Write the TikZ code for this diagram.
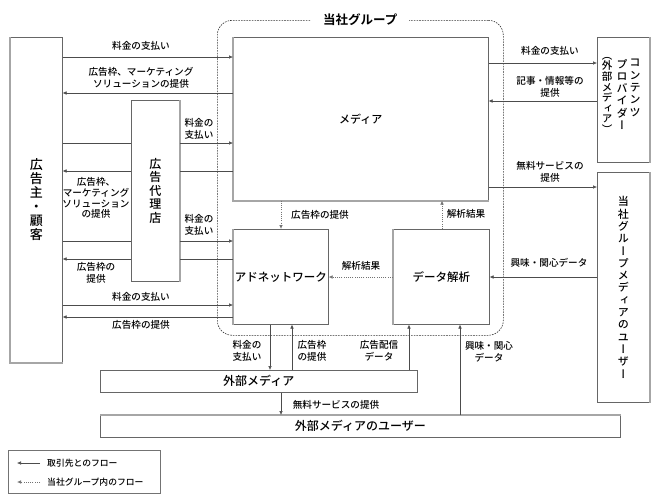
\documentclass[tikz,border=0pt]{standalone}
\usepackage{fontspec}
\setmainfont{Noto Sans CJK JP}[UprightFont={* Medium}, BoldFont={* Bold}]
\newfontfamily\vjp{Noto Sans CJK JP}[UprightFont={* Medium}, RawFeature=+vert]
\usetikzlibrary{arrows.meta}
\tikzset{
  box/.style={draw=black!60, line width=0.6pt, fill=white, inner sep=0pt, anchor=north west, align=center},
  shadeedge/.style={draw=black!35, line width=1.8pt},
  conn/.style={draw=black!70, line width=0.6pt},
  arr/.style={conn, -{Latex[length=4pt,width=3.6pt]}},
  darr/.style={draw=black!55, line width=0.7pt, dash pattern=on 1pt off 1.2pt, -{Latex[length=4pt,width=3.6pt]}},
  lbl/.style={font=\fontsize{9.6}{11.5}\selectfont, align=center, inner sep=0pt},
  boxtxt/.style={font=\fontsize{11.5}{13}\selectfont},
}
\begin{document}
\begin{tikzpicture}[x=1pt,y=-1pt]
\useasboundingbox (0,0) rectangle (660,501);
\fill[white] (0,0) rectangle (660,501);

% group boundary
\node[draw=black!80, line width=0.6pt, dash pattern=on 1.6pt off 1.1pt, rounded corners=15pt,
      minimum width=286pt, minimum height=315pt, inner sep=0pt, anchor=north west] (grp) at (217,20) {};
\node[fill=white, inner xsep=12pt, inner ysep=2pt, font=\fontsize{12.5}{14}\selectfont\bfseries] (title) at (grp.north) {当社グループ};

% boxes
\node[box, minimum width=52pt, minimum height=325pt, font=\vjp\fontsize{13}{14}\selectfont] (adv) at (10,37) {広\\告\\主\\・\\顧\\客};
\node[box, minimum width=48pt, minimum height=181pt, font=\vjp\fontsize{12}{13.4}\selectfont] (agency) at (131,100) {広\\告\\代\\理\\店};
\node[box, minimum width=255pt, minimum height=163pt, font=\fontsize{11}{13}\selectfont] (media) at (233,37) {メディア};
\node[box, minimum width=95pt, minimum height=95pt, boxtxt] (adnet) at (233,229) {アドネットワーク};
\node[box, minimum width=96pt, minimum height=95pt, boxtxt] (data) at (393,229) {データ解析};
\node[box, minimum width=52pt, minimum height=125pt] (prov) at (597,37) {};
\node[box, minimum width=52pt, minimum height=230pt, font=\vjp\fontsize{11}{12.3}\selectfont] (user) at (597,172) {当\\社\\グ\\ル\\ー\\プ\\メ\\デ\\ィ\\ア\\の\\ユ\\ー\\ザ\\ー};
\node[box, minimum width=317pt, minimum height=22pt, font=\fontsize{12}{13}\selectfont] (extm) at (100,370) {外部メディア};
\node[box, minimum width=520pt, minimum height=22pt, font=\fontsize{12}{13}\selectfont] (extu) at (100,415) {外部メディアのユーザー};

% provider vertical text columns
\node[anchor=north, inner sep=0pt, align=center, font=\vjp\fontsize{11}{12.4}\selectfont] (pc1) at (635,59) {コ\\ン\\テ\\ン\\ツ};
\node[anchor=north, inner sep=0pt, align=center, font=\vjp\fontsize{11}{12.2}\selectfont] (pc2) at (622,59) {プ\\ロ\\バ\\イ\\ダ\\ー};
\node[anchor=north, inner sep=0pt, align=center, font=\vjp\fontsize{10.5}{10.6}\selectfont] (pc3) at (607,57) {（\\外\\部\\メ\\デ\\ィ\\ア\\）};

% shaded edges
\draw[shadeedge] (adv.north west) -- (adv.south west) -- (adv.south east);
\draw[shadeedge] (agency.north east) -- (agency.south east);
\draw[shadeedge] (media.north west) -- (media.south west) -- (media.south east);
\draw[shadeedge] (adnet.north west) -- (adnet.south west);
\draw[shadeedge] (data.north west) -- (data.south west);
\draw[shadeedge] (prov.north east) -- (prov.south east);
\draw[shadeedge] (user.north east) -- (user.south east);
\draw[shadeedge] (extu.north west) -- (extu.north east);

% row levels
\coordinate (r1) at (0,57);
\coordinate (r2) at (0,93);
\coordinate (r3) at (0,143);
\coordinate (r4) at (0,171);
\coordinate (r5) at (0,241);
\coordinate (r6) at (0,259);
\coordinate (r7) at (0,305);
\coordinate (r8) at (0,317);
\coordinate (p1) at (0,63);
\coordinate (p2) at (0,101);
\coordinate (p3) at (0,187);
\coordinate (p4) at (0,277);
\coordinate (c1) at (281,0);
\coordinate (c2) at (442,0);
\coordinate (c3) at (270,0);
\coordinate (c4) at (292,0);
\coordinate (c5) at (409,0);
\coordinate (c6) at (460,0);
\coordinate (c7) at (281,0);

% left side connectors
\draw[arr] (adv.east |- r1) -- (media.west |- r1);
\draw[arr] (media.west |- r2) -- (adv.east |- r2);
\draw[conn] (adv.east |- r3) -- (agency.west |- r3);
\draw[arr] (agency.east |- r3) -- (media.west |- r3);
\draw[conn] (media.west |- r4) -- (agency.east |- r4);
\draw[arr] (agency.west |- r4) -- (adv.east |- r4);
\draw[conn] (adv.east |- r5) -- (agency.west |- r5);
\draw[arr] (agency.east |- r5) -- (adnet.west |- r5);
\draw[conn] (adnet.west |- r6) -- (agency.east |- r6);
\draw[arr] (agency.west |- r6) -- (adv.east |- r6);
\draw[arr] (adv.east |- r7) -- (adnet.west |- r7);
\draw[arr] (adnet.west |- r8) -- (adv.east |- r8);

% right side connectors
\draw[arr] (media.east |- p1) -- (prov.west |- p1);
\draw[arr] (prov.west |- p2) -- (media.east |- p2);
\draw[arr] (media.east |- p3) -- (user.west |- p3);
\draw[arr] (user.west |- p4) -- (data.east |- p4);

% internal dotted
\draw[darr] (media.south -| c1) -- (adnet.north -| c1);
\draw[darr] (data.north -| c2) -- (media.south -| c2);
\draw[darr] (data.west |- p4) -- (adnet.east |- p4);

% bottom connectors
\draw[arr] (adnet.south -| c3) -- (extm.north -| c3);
\draw[arr] (extm.north -| c4) -- (adnet.south -| c4);
\draw[arr] (extm.north -| c5) -- (data.south -| c5);
\draw[arr] (extu.north -| c6) -- (data.south -| c6);
\draw[arr] (extm.south -| c7) -- (extu.north -| c7);

% labels
\node[lbl] (l1) at (141,46) {料金の支払い};
\node[lbl] (l2) at (141,78) {広告枠、マーケティング\\ソリューションの提供};
\node[lbl] (l3) at (199,129) {料金の\\支払い};
\node[lbl, font=\fontsize{9.6}{10.7}\selectfont] (l4) at (96,198) {広告枠、\\マーケティング\\ソリューション\\の提供};
\node[lbl] (l5) at (199,225) {料金の\\支払い};
\node[lbl] (l6) at (96,273) {広告枠の\\提供};
\node[lbl] (l7) at (141,297) {料金の支払い};
\node[lbl] (l8) at (141,325) {広告枠の提供};
\node[lbl] (l9) at (550,51) {料金の支払い};
\node[lbl] (l10) at (550,87) {記事・情報等の\\提供};
\node[lbl] (l11) at (550,172) {無料サービスの\\提供};
\node[lbl] (l12) at (549,263) {興味・関心データ};
\node[lbl] (l13) at (466,214) {解析結果};
\node[lbl] (l14) at (320,215) {広告枠の提供};
\node[lbl] (l15) at (361,266) {解析結果};
\node[lbl] (l16) at (247,351) {料金の\\支払い};
\node[lbl] (l17) at (312,351) {広告枠\\の提供};
\node[lbl] (l18) at (379,351) {広告配信\\データ};
\node[lbl] (l19) at (489,352) {興味・関心\\データ};
\node[lbl] (l20) at (336,405) {無料サービスの提供};

% legend
\node[draw=black!55, line width=0.6pt, minimum width=152pt, minimum height=43pt, inner sep=0pt, anchor=north west] (leg) at (8,450) {};
\coordinate (la) at (40,463);
\coordinate (lb) at (17,463);
\coordinate (lc) at (40,482);
\coordinate (ld) at (17,482);
\draw[arr] (la) -- (lb);
\draw[darr] (lc) -- (ld);
\node[lbl, anchor=west, font=\fontsize{8.8}{10}\selectfont] (lt1) at (47,463) {取引先とのフロー};
\node[lbl, anchor=west, font=\fontsize{8.8}{10}\selectfont] (lt2) at (47,482) {当社グループ内のフロー};
\end{tikzpicture}
\end{document}
